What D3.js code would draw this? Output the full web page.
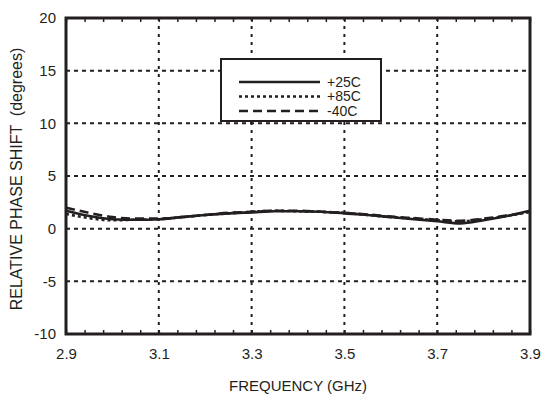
<!DOCTYPE html>
<html>
<head>
<meta charset="utf-8">
<script src="https://cdn.jsdelivr.net/npm/d3@7"></script>
<style>
  body { margin: 0; background: #fff; }
  text { font-family: "Liberation Sans", Arial, sans-serif; fill: #231f20; }
</style>
</head>
<body>
<svg id="chart"></svg>
<script>
// Frequency points (GHz)
const freqs = [2.90, 2.95, 3.00, 3.05, 3.10, 3.15, 3.20, 3.25, 3.30, 3.35, 3.40,
               3.45, 3.50, 3.55, 3.60, 3.65, 3.70, 3.75, 3.80, 3.85, 3.90];
// Relative phase shift (degrees) per temperature
const phase25 = [1.7, 1.2, 0.9, 0.85, 0.9, 1.1, 1.3, 1.45, 1.55, 1.65, 1.65,
                 1.6, 1.45, 1.3, 1.1, 0.9, 0.7, 0.5, 0.8, 1.2, 1.7];
const phase85 = [1.4, 1.0, 0.8, 0.85, 0.9, 1.1, 1.3, 1.45, 1.6, 1.7, 1.65,
                 1.6, 1.5, 1.3, 1.1, 0.95, 0.8, 0.7, 0.9, 1.2, 1.6];
const phaseM40 = [2.0, 1.5, 1.1, 0.95, 0.95, 1.1, 1.3, 1.5, 1.6, 1.7, 1.7,
                  1.6, 1.5, 1.35, 1.15, 1.0, 0.85, 0.75, 0.95, 1.25, 1.6];
const seriesNames = ['+25C', '+85C', '-40C'];
const xTicks = [2.9, 3.1, 3.3, 3.5, 3.7, 3.9];
const yTicks = [-10, -5, 0, 5, 10, 15, 20];

const width = 541, height = 398;
const margin = {top: 18, right: 11, bottom: 64, left: 66};
const innerW = width - margin.left - margin.right;
const innerH = height - margin.top - margin.bottom;
const fontFam = '"Liberation Sans", Arial, sans-serif';

const svg = d3.select('#chart')
    .attr('width', width)
    .attr('height', height);

const chart = svg.append('g')
    .attr('transform', `translate(${margin.left},${margin.top})`);

const xScale = d3.scaleLinear().domain([2.9, 3.9]).range([0, innerW]);
const yScale = d3.scaleLinear().domain([-10, 20]).range([innerH, 0]);

// Grid lines (dotted)
chart.selectAll('.vgrid')
    .data(xTicks.slice(1, -1))
    .enter().append('line')
    .attr('x1', d => xScale(d)).attr('x2', d => xScale(d))
    .attr('y1', 0).attr('y2', innerH)
    .attr('stroke', '#231f20')
    .attr('stroke-width', 2)
    .attr('stroke-dasharray', '3,5');

chart.selectAll('.hgrid')
    .data(yTicks.slice(1, -1))
    .enter().append('line')
    .attr('x1', 0).attr('x2', innerW)
    .attr('y1', d => yScale(d)).attr('y2', d => yScale(d))
    .attr('stroke', '#231f20')
    .attr('stroke-width', 2)
    .attr('stroke-dasharray', '4,4');

// Minor ticks on top and bottom, pointing inward
const minorTicks = d3.range(0, 26).map(i => 2.9 + i * 0.04);
const bottomAxis = d3.axisBottom(xScale).tickValues(minorTicks).tickSize(-4).tickFormat('');
const topAxis = d3.axisTop(xScale).tickValues(minorTicks).tickSize(-4).tickFormat('');
[chart.append('g').attr('transform', `translate(0,${innerH})`).call(bottomAxis),
 chart.append('g').call(topAxis)].forEach(g => {
  g.select('.domain').remove();
  g.selectAll('line').attr('stroke', '#231f20').attr('stroke-width', 1.5);
});

// Tick labels
const xAxis = d3.axisBottom(xScale).tickValues(xTicks).tickSize(0).tickPadding(14)
    .tickFormat(d3.format('.1f'));
const xg = chart.append('g').attr('transform', `translate(0,${innerH})`).call(xAxis);
xg.select('.domain').remove();
xg.selectAll('text').attr('font-size', 15).attr('font-family', fontFam).attr('fill', '#231f20');

const yAxis = d3.axisLeft(yScale).tickValues(yTicks).tickSize(0).tickPadding(10)
    .tickFormat(d => String(d));
const yg = chart.append('g').call(yAxis);
yg.select('.domain').remove();
yg.selectAll('text').attr('font-size', 15).attr('font-family', fontFam).attr('fill', '#231f20');

// Data lines
const series = [
  {name: seriesNames[0], values: phase25, dash: null, w: 2.6},
  {name: seriesNames[1], values: phase85, dash: '3,3', w: 2.6},
  {name: seriesNames[2], values: phaseM40, dash: '9,5', w: 2.6}
];

const line = d3.line()
    .x((d, i) => xScale(freqs[i]))
    .y(d => yScale(d))
    .curve(d3.curveMonotoneX);

chart.selectAll('.series')
    .data(series)
    .enter().append('path')
    .attr('class', 'series')
    .attr('d', d => line(d.values))
    .attr('fill', 'none')
    .attr('stroke', '#231f20')
    .attr('stroke-width', d => d.w)
    .attr('stroke-dasharray', d => d.dash);

// Frame
chart.append('rect')
    .attr('width', innerW)
    .attr('height', innerH)
    .attr('fill', 'none')
    .attr('stroke', '#231f20')
    .attr('stroke-width', 3);

// Legend
const legend = chart.append('g')
    .attr('transform', `translate(${221 - margin.left},${59 - margin.top})`);
legend.append('rect')
    .attr('width', 160)
    .attr('height', 62)
    .attr('fill', '#fff')
    .attr('stroke', '#231f20')
    .attr('stroke-width', 2);
series.forEach((s, i) => {
  const y = 23 + i * 14.5;
  legend.append('line')
      .attr('x1', 18).attr('x2', 99)
      .attr('y1', y).attr('y2', y)
      .attr('stroke', '#231f20')
      .attr('stroke-width', 2.6)
      .attr('stroke-dasharray', s.dash);
  legend.append('text')
      .attr('x', 106).attr('y', y)
      .attr('dy', '0.35em')
      .attr('font-size', 14)
      .text(s.name);
});

// Axis titles
svg.append('text')
    .attr('x', margin.left + innerW / 2)
    .attr('y', 391)
    .attr('text-anchor', 'middle')
    .attr('font-size', 15)
    .text('FREQUENCY (GHz)');

svg.append('text')
    .attr('transform', 'translate(22,179) rotate(-90)')
    .attr('text-anchor', 'middle')
    .attr('font-size', 16)
    .style('white-space', 'pre')
    .text('RELATIVE PHASE SHIFT  (degrees)');
</script>
</body>
</html>
